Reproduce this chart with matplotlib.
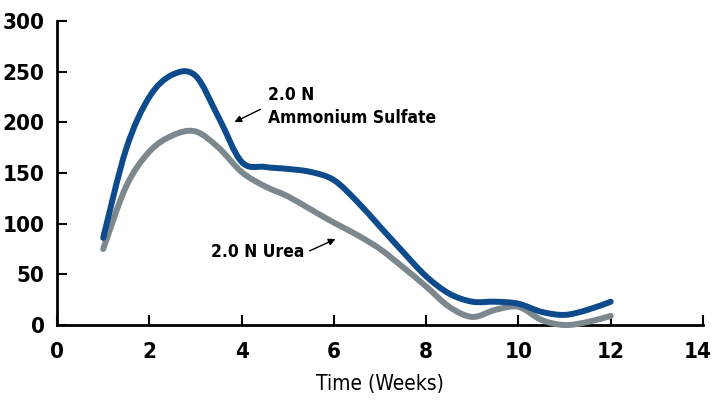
import numpy as np
import matplotlib.pyplot as plt
from matplotlib.path import Path
from matplotlib.patches import PathPatch
from matplotlib.transforms import ScaledTranslation

plt.rcParams['font.family'] = ['DejaVu Sans']
plt.rcParams['font.stretch'] = 'condensed'

# values every half week
weeks = [1, 1.5, 2, 2.5, 3, 3.5, 4, 4.5, 5, 5.5, 6, 6.5,
         7, 7.5, 8, 8.5, 9, 9.5, 10, 10.5, 11, 11.5, 12]
ammonium_sulfate = [86, 174, 225, 247, 246, 205, 161, 156, 154, 151, 143, 122,
                    97, 72, 48, 31, 23, 23, 21, 13, 10, 15, 23]
urea = [75, 137, 171, 187, 191, 175, 151, 137, 127, 114, 101, 89,
        75, 57, 38, 18, 8, 15, 18, 5, 0, 3, 9]

BLUE = '#0d4b8c'
GRAY = '#7c878e'


def smooth_path(x, y):
    # catmull-rom -> cubic bezier segments
    pts = np.column_stack([np.asarray(x, float), np.asarray(y, float)])
    ext = np.vstack([pts[0], pts, pts[-1]])
    verts = [pts[0]]
    codes = [Path.MOVETO]
    for i in range(1, len(ext) - 2):
        p0, p1, p2, p3 = ext[i - 1], ext[i], ext[i + 1], ext[i + 2]
        verts += [p1 + (p2 - p0) / 6, p2 - (p3 - p1) / 6, p2]
        codes += [Path.CURVE4] * 3
    return Path(verts, codes)


fig = plt.figure(figsize=(7.13, 4.03), dpi=100)
ax = fig.add_axes([0.080, 0.1935, 0.906, 0.7545])

ax.add_patch(PathPatch(smooth_path(weeks, urea), fill=False, ec=GRAY, lw=4.3,
                       capstyle='round', joinstyle='round', clip_on=False, zorder=3))
ax.add_patch(PathPatch(smooth_path(weeks, ammonium_sulfate), fill=False, ec=BLUE, lw=4.3,
                       capstyle='round', joinstyle='round', clip_on=False, zorder=3))

ax.set_xlim(0, 14)
ax.set_ylim(0, 300)
ax.set_xticks([0, 2, 4, 6, 8, 10, 12, 14])
ax.set_yticks([0, 50, 100, 150, 200, 250, 300])
for s in ['top', 'right']:
    ax.spines[s].set_visible(False)
for s in ['left', 'bottom']:
    ax.spines[s].set_linewidth(2)
ax.tick_params(direction='in', length=7, width=1.5, labelsize=16)
ax.tick_params(axis='x', pad=12)
ax.tick_params(axis='y', pad=9)
for lab in ax.get_xticklabels() + ax.get_yticklabels():
    lab.set_fontweight('bold')
last = ax.get_xticklabels()[-1]
last.set_transform(last.get_transform() + ScaledTranslation(-4 / 72, 0, fig.dpi_scale_trans))
ax.set_xlabel('Time (Weeks)', fontsize=15, labelpad=9)

ax.annotate('', xy=(3.79, 199), xytext=(4.46, 214),
            arrowprops=dict(arrowstyle='-|>', color='black', lw=1, mutation_scale=10))
ax.text(4.57, 227, '2.0 N', fontsize=12.5, fontweight='bold', va='center')
ax.text(4.57, 204, 'Ammonium Sulfate', fontsize=12.5, fontweight='bold', va='center')

ax.annotate('', xy=(6.09, 86), xytext=(5.42, 72),
            arrowprops=dict(arrowstyle='-|>', color='black', lw=1, mutation_scale=10))
ax.text(5.35, 72, '2.0 N Urea', fontsize=12.5, fontweight='bold', va='center', ha='right')

fig.savefig('out.png', dpi=100)
